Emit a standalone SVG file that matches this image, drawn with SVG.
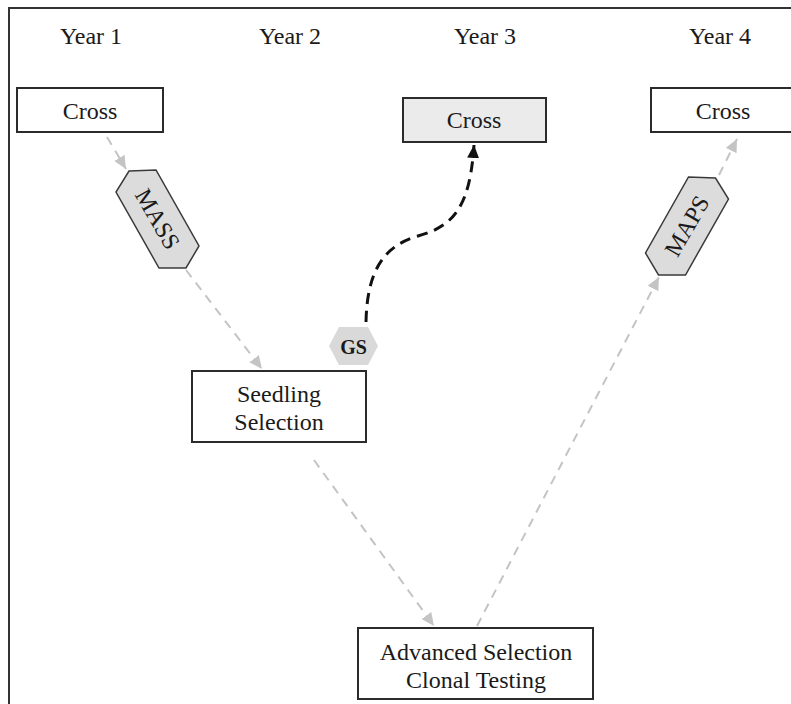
<svg xmlns="http://www.w3.org/2000/svg" width="791" height="704" viewBox="0 0 791 704">
  <style>
    .lbl { font-family: "Liberation Serif", "Times New Roman", serif; font-size: 24px; fill: #1a1a1a; text-anchor: middle; }
    .box { fill: #ffffff; stroke: #2b2b2b; stroke-width: 2; }
    .box-gray { fill: #ebebeb; stroke: #2b2b2b; stroke-width: 2; }
    .hex { fill: #dcdcdc; stroke: #3a3a3a; stroke-width: 1.5; }
    .flow { fill: none; stroke: #c4c4c4; stroke-width: 2; stroke-dasharray: 9 7; }
    .gs-flow { fill: none; stroke: #111111; stroke-width: 3; stroke-dasharray: 11 7; }
  </style>
  <defs>
    <marker id="arrow-gray" markerUnits="userSpaceOnUse" markerWidth="14" markerHeight="12" refX="13" refY="6" orient="auto">
      <path d="M0,0 L13,6 L0,12 Z" fill="#c4c4c4"/>
    </marker>
    <marker id="arrow-black" markerUnits="userSpaceOnUse" markerWidth="14" markerHeight="12" refX="13" refY="6" orient="auto">
      <path d="M0,0 L13,6 L0,12 Z" fill="#111111"/>
    </marker>
  </defs>

  <rect width="791" height="704" fill="#ffffff"/>

  <!-- outer frame (top and left edges) -->
  <path d="M9,704 L9,8 L791,8" fill="none" stroke="#333333" stroke-width="2"/>

  <!-- year headings -->
  <g id="year-headings">
    <text class="lbl" x="91" y="44">Year 1</text>
    <text class="lbl" x="290" y="44">Year 2</text>
    <text class="lbl" x="485" y="44">Year 3</text>
    <text class="lbl" x="720" y="44">Year 4</text>
  </g>

  <!-- connectors -->
  <g id="connectors">
    <path class="flow" d="M107,137 L126,169" marker-end="url(#arrow-gray)"/>
    <path class="flow" d="M186,270 L262,369" marker-end="url(#arrow-gray)"/>
    <path class="flow" d="M314,460 L434,626" marker-end="url(#arrow-gray)"/>
    <path class="flow" d="M477,626 L659,277" marker-end="url(#arrow-gray)"/>
    <path class="flow" d="M719,175 L737,139" marker-end="url(#arrow-gray)"/>
    <path class="gs-flow" d="M366,322 C367,272 383,246 418,236 C455,226 470,205 474,145" marker-end="url(#arrow-black)"/>
  </g>

  <g id="cross-year1">
    <rect class="box" x="17" y="88" width="146" height="44"/>
    <text class="lbl" x="90" y="119">Cross</text>
  </g>

  <g id="cross-year3">
    <rect class="box-gray" x="403" y="98" width="143" height="44"/>
    <text class="lbl" x="474" y="128">Cross</text>
  </g>

  <g id="cross-year4">
    <rect class="box" x="651" y="88" width="146" height="44"/>
    <text class="lbl" x="723" y="119">Cross</text>
  </g>

  <g id="mass">
    <polygon class="hex" points="129,171 156,170 199,246 186,268 159,268 116,192"/>
    <text class="lbl" x="0" y="8" transform="translate(157.5,219) rotate(60)">MASS</text>
  </g>

  <g id="maps">
    <polygon class="hex" points="715.5,178 688.5,177 645.5,253 658.5,275 685.5,275 728.5,199"/>
    <text class="lbl" x="0" y="8" transform="translate(687,226) rotate(-60)">MAPS</text>
  </g>

  <g id="gs">
    <polygon points="329,346 339,327 368,327 378,346 368,365 339,365" fill="#d9d9d9"/>
    <text class="lbl" x="353.5" y="354" style="font-weight:bold;font-size:20px">GS</text>
  </g>

  <g id="seedling-selection">
    <rect class="box" x="192" y="371" width="174" height="71"/>
    <text class="lbl" x="279" y="402">Seedling</text>
    <text class="lbl" x="279" y="430">Selection</text>
  </g>

  <g id="advanced-selection">
    <rect class="box" x="358" y="628" width="235" height="71"/>
    <text class="lbl" x="476" y="660">Advanced Selection</text>
    <text class="lbl" x="476" y="688">Clonal Testing</text>
  </g>
</svg>
